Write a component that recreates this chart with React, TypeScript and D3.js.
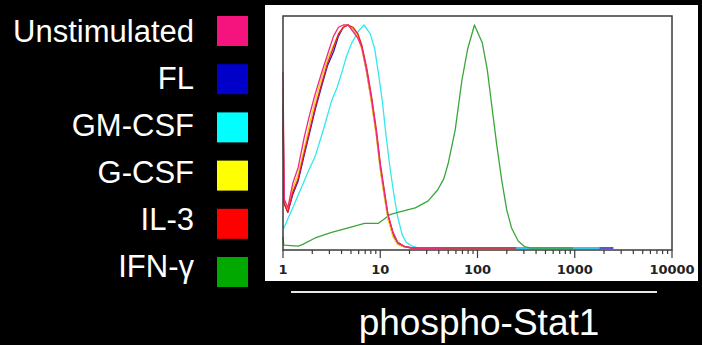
import { useRef, useEffect } from 'react';
import * as d3 from 'd3';

// legend order, colours as in the figure
const conditions = ['Unstimulated', 'FL', 'GM-CSF', 'G-CSF', 'IL-3', 'IFN-\u03b3'];
const colors = ['#f5137e', '#0000c8', '#00ffff', '#ffff00', '#ff0000', '#00a800'];
const lineColors = ['#ef2a85', '#2020c0', '#33e8f0', '#f2d21a', '#ee1c1c', '#3aa63a'];

// histograms: [intensity, % of mode]
const unstimulated: [number, number][] = [
  [1, 79], [1.03, 22], [1.12, 18], [1.26, 29], [1.43, 36], [1.66, 50], [1.91, 61], [2.14, 69],
  [2.51, 79], [2.88, 87], [3.31, 95], [3.72, 99], [4.17, 100], [4.68, 100], [5.25, 97], [5.89, 94],
  [6.46, 90], [7.24, 80], [8.13, 67], [9.12, 52], [10, 37], [11, 25], [12, 15], [13.5, 7],
  [15.1, 2.5], [17.8, 0.7], [21.4, 0], [45, 0],
];
const fl: [number, number][] = [
  [1, 64], [1.03, 20], [1.12, 16], [1.26, 24], [1.43, 30], [1.66, 42], [1.91, 53], [2.14, 62],
  [2.51, 73], [2.88, 82], [3.31, 88], [3.72, 95], [4.17, 99], [4.68, 100], [5.25, 98], [5.89, 95],
  [6.46, 90], [7.24, 79], [8.13, 66], [9.12, 51], [10, 36], [11, 24], [12, 14], [13.5, 6],
  [15.1, 2], [17.8, 0.5], [21.4, 0], [2500, 0],
];
const gmcsf: [number, number][] = [
  [1, 10], [1.02, 9], [1.12, 13], [1.26, 18], [1.58, 28], [1.8, 34], [2.14, 41], [2.6, 53],
  [3.16, 66], [3.6, 72], [3.98, 78], [4.5, 86], [5.1, 92], [5.9, 97], [6.8, 100], [7.9, 96],
  [8.8, 89], [9.6, 78], [10.5, 66], [11.5, 50], [12.6, 36], [13.8, 24], [15.1, 14], [16.8, 6],
  [18.5, 2.5], [21, 1], [25, 0], [1800, 0],
];
const gcsf: [number, number][] = [
  [1, 72], [1.03, 21], [1.12, 17], [1.26, 27], [1.43, 33], [1.66, 45], [1.91, 57], [2.14, 66],
  [2.51, 77], [2.88, 85], [3.31, 91], [3.72, 96], [4.17, 99], [4.68, 100], [5.25, 98], [5.89, 95],
  [6.46, 89], [7.24, 79], [8.13, 65], [9.12, 50], [10, 35], [11, 23], [12, 13], [13.5, 5],
  [15.1, 1.5], [17.8, 0.4], [21.4, 0], [30, 0],
];
const il3: [number, number][] = [
  [1, 55], [1.03, 20], [1.12, 16], [1.26, 25], [1.43, 31], [1.66, 43], [1.91, 54], [2.14, 63],
  [2.51, 74], [2.88, 83], [3.31, 90], [3.72, 96], [4.17, 99], [4.68, 100], [5.25, 99], [5.89, 96],
  [6.46, 91], [7.24, 81], [8.13, 68], [9.12, 53], [10, 38], [11, 26], [12, 15], [13.5, 7],
  [15.1, 2.5], [17.8, 0.6], [21.4, 0], [250, 0],
];
const ifng: [number, number][] = [
  [1, 5], [1.02, 1.3], [1.43, 0.8], [1.58, 1.5], [2.14, 4.5], [3.16, 7], [4.68, 9], [6.9, 11],
  [9.5, 11], [11, 13], [12.6, 15], [15.1, 16], [22.9, 18], [30.9, 21], [38.9, 26], [45, 31],
  [50, 38], [59, 53], [69, 75], [79, 89], [93, 100], [112, 92], [126, 80], [141, 63], [158, 46],
  [178, 30], [200, 17], [224, 9], [263, 3], [309, 0.5], [355, 0], [960, 0],
];
const series = [unstimulated, fl, gmcsf, gcsf, il3, ifng];
// bottom to top
const drawOrder = [1, 2, 5, 3, 4, 0];

const xTicks = [1, 10, 100, 1000, 10000];
const axisTitle = 'phospho-Stat1';

const App = () => {
  const svgRef = useRef<SVGSVGElement>(null);
  const width = 702;
  const height = 345;

  useEffect(() => {
    const svg = d3.select(svgRef.current);
    svg.selectAll('*').remove();

    svg.append('rect').attr('width', width).attr('height', height).attr('fill', '#000');

    // white plot panel
    svg.append('rect')
      .attr('x', 265).attr('y', 5)
      .attr('width', 433).attr('height', 276)
      .attr('fill', '#fff');

    const x = d3.scaleLog().domain([1, 10000]).range([283, 672]);
    const y = d3.scaleLinear().domain([0, 100]).range([248, 25]);

    // legend
    const rowY = d3.scalePoint<string>().domain(conditions).range([31, 272]);
    const textY = d3.scalePoint<string>().domain(conditions).range([31, 266]);
    conditions.forEach((c, i) => {
      svg.append('rect')
        .attr('x', 217).attr('y', (rowY(c) ?? 0) - 15)
        .attr('width', 31).attr('height', 30)
        .attr('fill', colors[i]);
      svg.append('text')
        .attr('x', 194).attr('y', (textY(c) ?? 0) + 11)
        .attr('text-anchor', 'end')
        .attr('font-family', '"Liberation Sans", Arial, sans-serif')
        .attr('font-size', 31)
        .attr('fill', '#fff')
        .text(c);
    });

    // histograms
    const line = d3.line<[number, number]>()
      .x((d) => x(d[0]))
      .y((d) => y(d[1]));
    drawOrder.forEach((i) => {
      svg.append('path')
        .attr('d', line(series[i]) || '')
        .attr('fill', 'none')
        .attr('stroke', lineColors[i])
        .attr('stroke-width', 1.3)
        .attr('stroke-linejoin', 'round');
    });

    // frame
    svg.append('rect')
      .attr('x', 283).attr('y', 16)
      .attr('width', 389).attr('height', 234)
      .attr('fill', 'none')
      .attr('stroke', '#3a3a3a')
      .attr('stroke-width', 1.5);

    // log ticks
    const allTicks = x.ticks(40);
    allTicks.forEach((t) => {
      const major = xTicks.includes(t);
      svg.append('line')
        .attr('x1', x(t)).attr('x2', x(t))
        .attr('y1', 250).attr('y2', major ? 258 : 254)
        .attr('stroke', '#3a3a3a')
        .attr('stroke-width', 1.2);
    });
    xTicks.forEach((t) => {
      svg.append('text')
        .attr('x', x(t)).attr('y', 274)
        .attr('text-anchor', 'middle')
        .attr('font-family', '"DejaVu Sans", Verdana, sans-serif')
        .attr('font-weight', 'bold')
        .attr('font-size', 13)
        .attr('fill', '#222')
        .text(String(t));
    });

    // axis title with rule
    svg.append('line')
      .attr('x1', 291).attr('x2', 657)
      .attr('y1', 292).attr('y2', 292)
      .attr('stroke', '#e8e8e8')
      .attr('stroke-width', 2);
    svg.append('text')
      .attr('x', 479).attr('y', 335)
      .attr('text-anchor', 'middle')
      .attr('font-family', '"Liberation Sans", Arial, sans-serif')
      .attr('font-size', 37)
      .attr('fill', '#fff')
      .text(axisTitle);
  }, []);

  return (
    <>
      <style>{'body{margin:0;background:#000}'}</style>
      <svg ref={svgRef} width={width} height={height} style={{ display: 'block' }} />
    </>
  );
};

export default App;
